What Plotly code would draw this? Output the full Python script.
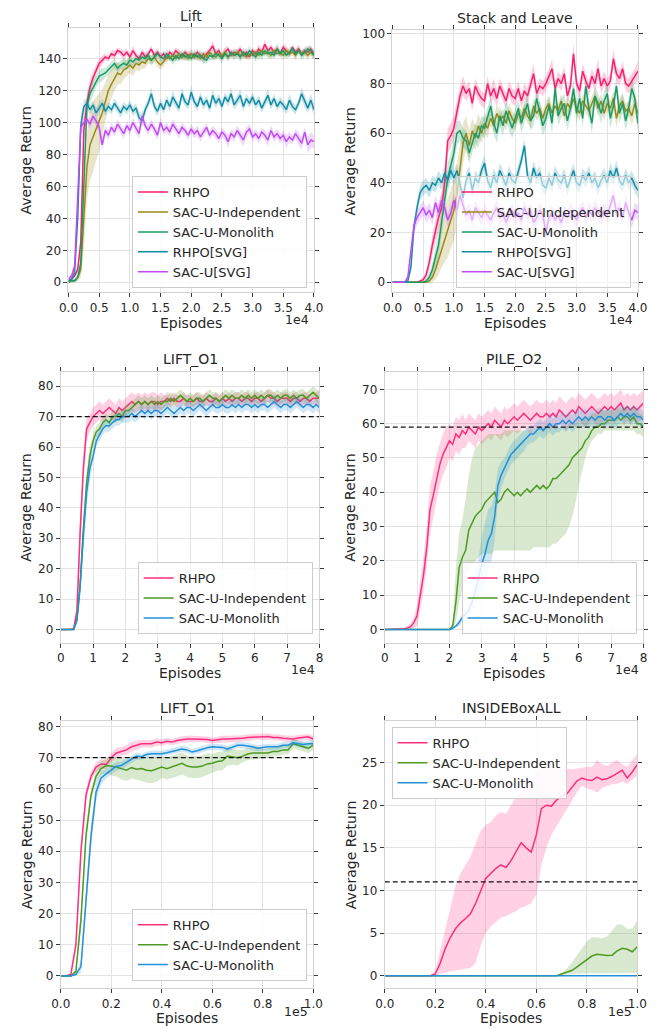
import plotly.graph_objects as go

W, H = 668, 1028
FONT = "DejaVu Sans"
TXT = "#262626"

# ---------------- x grids (episodes) ----------------
ep_top = [i * 500 for i in range(81)]      # 0 .. 4e4
ep_mid = [i * 1000 for i in range(81)]     # 0 .. 8e4
ep_bot = [i * 2000 for i in range(51)]     # 0 .. 1e5

NAMES_TOP = ["RHPO", "SAC-U-Independent", "SAC-U-Monolith", "RHPO[SVG]", "SAC-U[SVG]"]
NAMES_LOW = ["RHPO", "SAC-U-Independent", "SAC-U-Monolith"]

# ---------------- Lift ----------------
lift_rhpo = [1, 2, 4, 8, 25, 95, 112, 122, 128, 133,
             137, 139, 141, 140, 143, 142, 145, 144, 142, 144,
             141, 145, 142, 140, 144, 141, 143, 146, 142, 144,
             141, 143, 140, 144, 142, 145, 143, 141, 144, 142,
             143, 141, 144, 142, 140, 143, 145, 148, 143, 145,
             141, 144, 146, 142, 144, 143, 146, 142, 144, 141,
             145, 143, 146, 144, 149, 145, 147, 144, 146, 143,
             147, 145, 143, 147, 144, 146, 143, 145, 144, 146, 143]
lift_rhpo_sd = [0.5, 1, 1, 2, 5, 10, 6, 5, 4, 3,
                3, 3, 2, 2, 2, 3, 2, 2, 3, 2,
                2, 3, 2, 2, 2, 3, 2, 2, 2, 3,
                2, 2, 3, 2, 2, 2, 3, 2, 2, 2,
                3, 2, 2, 2, 3, 2, 2, 3, 2, 2,
                2, 3, 2, 2, 2, 3, 2, 2, 3, 2,
                2, 2, 3, 2, 3, 2, 2, 2, 3, 2,
                2, 3, 2, 2, 2, 3, 2, 2, 3, 2, 2]
lift_ind = [0, 1, 1, 3, 8, 40, 72, 86, 91, 96,
            100, 106, 113, 120, 124, 128, 131, 130, 133, 134,
            136, 134, 137, 136, 138, 137, 140, 139, 141, 138,
            136, 138, 141, 140, 142, 140, 143, 141, 142, 140,
            143, 141, 142, 140, 143, 141, 144, 142, 141, 143,
            142, 144, 141, 143, 142, 144, 142, 143, 141, 143,
            142, 144, 142, 145, 143, 144, 142, 145, 143, 144,
            142, 145, 143, 144, 142, 145, 143, 144, 142, 144, 142]
lift_ind_sd = [0.5, 1, 1, 2, 5, 20, 20, 22, 22, 20,
               18, 15, 12, 10, 9, 8, 7, 6, 6, 5,
               5, 5, 4, 4, 4, 3, 3, 3, 3, 3,
               3, 3, 2, 2, 3, 2, 2, 2, 3, 2,
               2, 2, 3, 2, 2, 2, 2, 3, 2, 2,
               2, 3, 2, 2, 2, 2, 3, 2, 2, 2,
               2, 2, 3, 2, 2, 2, 3, 2, 2, 2,
               3, 2, 2, 2, 3, 2, 2, 2, 3, 2, 3]
lift_mono = [0, 1, 1, 3, 12, 60, 110, 118, 122, 126,
             129, 130, 131, 133, 135, 137, 134, 136, 137, 136,
             139, 138, 140, 139, 141, 140, 142, 139, 141, 143,
             141, 140, 143, 141, 139, 142, 140, 143, 141, 142,
             140, 143, 141, 142, 140, 139, 142, 141, 143, 142,
             140, 143, 141, 144, 142, 143, 141, 144, 142, 145,
             143, 141, 144, 142, 145, 143, 144, 142, 146, 143,
             145, 142, 144, 146, 143, 145, 142, 144, 146, 145, 142]
lift_mono_sd = [0.5, 1, 1, 2, 6, 12, 8, 6, 5, 4,
                4, 4, 3, 3, 3, 3, 3, 3, 3, 3,
                3, 3, 2, 3, 2, 3, 2, 3, 3, 2,
                3, 2, 3, 2, 3, 3, 2, 3, 2, 3,
                2, 3, 2, 3, 3, 2, 3, 2, 3, 2,
                3, 2, 3, 2, 3, 2, 3, 3, 2, 3,
                2, 3, 2, 3, 2, 3, 3, 2, 3, 2,
                3, 2, 3, 2, 3, 2, 3, 3, 2, 3, 3]
lift_rsvg = [1, 2, 6, 40, 98, 110, 112, 108, 111, 106,
             109, 112, 107, 110, 108, 112, 109, 106, 110, 108,
             111, 107, 109, 103, 101, 108, 112, 118, 110, 107,
             112, 108, 114, 110, 116, 112, 109, 118, 113, 111,
             119, 113, 110, 116, 111, 114, 109, 117, 112, 115,
             110, 116, 113, 118, 111, 114, 117, 110, 115, 112,
             116, 111, 114, 109, 113, 117, 111, 115, 110, 113,
             111, 108, 114, 110, 108, 112, 118, 113, 109, 114, 108]
lift_rsvg_sd = [0.5, 1, 2, 5, 6, 4, 3, 3, 3, 3,
                3, 3, 3, 3, 3, 3, 3, 3, 3, 3,
                3, 3, 3, 4, 4, 3, 3, 4, 3, 3,
                3, 3, 3, 3, 4, 3, 3, 4, 3, 3,
                4, 3, 3, 3, 3, 3, 3, 4, 3, 3,
                3, 3, 3, 4, 3, 3, 4, 3, 3, 3,
                3, 3, 3, 3, 3, 4, 3, 3, 3, 3,
                3, 3, 4, 3, 3, 3, 4, 4, 3, 4, 4]
lift_ssvg = [2, 4, 10, 50, 97, 100, 102, 99, 104, 101,
             97, 86, 95, 92, 97, 94, 99, 96, 93, 98,
             95, 100, 96, 93, 104, 98, 95, 99, 96, 92,
             100, 95, 97, 94, 99, 96, 93, 97, 95, 92,
             96, 93, 95, 91, 94, 97, 92, 95, 93, 90,
             94, 92, 88, 93, 91, 95, 92, 89, 94, 96,
             91, 93, 90, 94, 92, 89, 95, 91, 93, 90,
             92, 88, 91, 89, 93, 90, 87, 94, 86, 89, 88]
lift_ssvg_sd = [1, 2, 4, 6, 5, 4, 3, 3, 3, 3,
                3, 4, 3, 3, 3, 3, 3, 3, 3, 3,
                3, 3, 3, 3, 4, 3, 3, 3, 3, 3,
                3, 3, 3, 3, 3, 3, 3, 3, 3, 3,
                3, 3, 3, 3, 3, 3, 3, 3, 3, 3,
                3, 3, 4, 3, 3, 3, 3, 4, 3, 3,
                3, 3, 3, 3, 3, 4, 3, 3, 3, 3,
                3, 4, 3, 3, 3, 4, 4, 3, 5, 5, 4]

# ---------------- Stack and Leave ----------------
stack_rhpo = [0, 0, 0, 0, 0, 0, 0, 0, 0, 0.5,
              1, 3, 8, 15, 21, 26, 30, 40, 57, 59,
              62, 68, 75, 79, 76, 78, 72, 79, 76, 74,
              73, 80, 75, 78, 74, 79, 76, 73, 78, 75,
              74, 78, 73, 77, 75, 80, 84, 76, 79, 78,
              80, 83, 86, 78, 82, 80, 84, 75, 79, 92,
              80, 77, 85, 81, 78, 83, 80, 86, 79, 82,
              79, 81, 90, 84, 82, 86, 80, 79, 81, 83, 85]
stack_rhpo_sd = [0, 0, 0, 0, 0, 0, 0, 0, 0, 0.3,
                 1, 2, 3, 4, 5, 6, 6, 6, 5, 5,
                 5, 5, 4, 4, 3, 3, 3, 3, 3, 3,
                 3, 3, 3, 4, 3, 3, 3, 3, 3, 3,
                 3, 3, 3, 3, 3, 3, 4, 3, 3, 3,
                 3, 3, 4, 3, 3, 3, 3, 3, 3, 4,
                 3, 3, 3, 3, 3, 3, 3, 4, 3, 3,
                 3, 3, 4, 3, 3, 3, 3, 3, 3, 3, 4]
stack_ind = [0, 0, 0, 0, 0, 0, 0, 0, 0, 0,
             0, 0, 0.5, 2, 5, 9, 14, 18, 22, 25,
             29, 35, 45, 56, 60, 55, 61, 58, 63, 60,
             64, 62, 66, 63, 68, 65, 67, 64, 69, 66,
             64, 68, 66, 70, 67, 65, 71, 68, 70, 66,
             70, 72, 68, 71, 69, 73, 67, 72, 70, 74,
             70, 68, 73, 71, 69, 72, 75, 70, 73, 68,
             72, 70, 74, 66, 71, 73, 69, 70, 67, 72, 68]
stack_ind_sd = [0, 0, 0, 0, 0, 0, 0, 0, 0, 0,
                0, 0, 1, 2, 4, 6, 8, 10, 12, 12,
                12, 12, 10, 8, 7, 6, 5, 5, 5, 4,
                4, 4, 3, 3, 4, 3, 3, 3, 3, 3,
                3, 3, 3, 3, 3, 3, 3, 3, 3, 3,
                3, 3, 3, 3, 3, 3, 3, 3, 3, 3,
                3, 3, 3, 3, 3, 3, 3, 3, 3, 3,
                3, 3, 3, 4, 3, 3, 3, 3, 4, 4, 4]
stack_mono = [0, 0, 0, 0, 0, 0, 0, 0, 0, 0,
              0, 0.5, 2, 5, 10, 15, 24, 33, 42, 47,
              52, 60, 61, 58, 57, 52, 56, 60, 58, 63,
              62, 66, 71, 64, 60, 67, 63, 69, 65, 62,
              66, 70, 64, 68, 72, 65, 67, 74, 68, 63,
              66, 71, 64, 78, 67, 70, 72, 65, 70, 78,
              68, 74, 66, 79, 70, 64, 75, 72, 68, 73,
              76, 66, 71, 79, 68, 72, 65, 70, 78, 74, 64]
stack_mono_sd = [0, 0, 0, 0, 0, 0, 0, 0, 0, 0,
                 0, 1, 2, 3, 4, 5, 6, 6, 6, 5,
                 5, 5, 4, 4, 4, 4, 4, 4, 4, 4,
                 4, 4, 4, 4, 4, 4, 4, 4, 4, 4,
                 4, 4, 4, 4, 4, 4, 4, 4, 4, 4,
                 4, 4, 4, 4, 4, 4, 4, 4, 4, 4,
                 4, 4, 4, 4, 4, 4, 4, 4, 4, 4,
                 4, 4, 4, 4, 4, 4, 4, 4, 4, 4, 4]
stack_rsvg = [0, 0, 0, 0, 0, 0.5, 6, 22, 30, 36,
              38, 39, 37, 40, 39, 42, 40, 44, 41, 45,
              42, 45, 39, 34, 41, 44, 37, 42, 40, 45,
              48, 41, 38, 43, 40, 45, 42, 39, 44, 41,
              40, 44, 49, 55, 43, 40, 46, 42, 44, 39,
              38, 42, 39, 44, 41, 40, 43, 38, 42, 45,
              40, 39, 43, 41, 44, 40, 42, 38, 41, 43,
              40, 45, 42, 46, 41, 39, 43, 40, 42, 39, 37]
stack_rsvg_sd = [0, 0, 0, 0, 0, 0.5, 2, 3, 3, 3,
                 3, 3, 3, 3, 3, 3, 3, 3, 3, 3,
                 3, 3, 3, 3, 3, 3, 3, 3, 3, 3,
                 3, 3, 3, 3, 3, 3, 3, 3, 3, 3,
                 3, 3, 3, 3, 3, 3, 3, 3, 3, 3,
                 3, 3, 3, 3, 3, 3, 3, 3, 3, 3,
                 3, 3, 3, 3, 3, 3, 3, 3, 3, 3,
                 3, 3, 3, 3, 3, 3, 3, 3, 3, 3, 3]
stack_ssvg = [0, 0, 0, 0, 0, 2, 12, 23, 26, 28,
              30, 27, 29, 26, 32, 28, 33, 30, 25, 28,
              33, 29, 35, 31, 27, 29, 25, 30, 28, 26,
              29, 27, 25, 28, 30, 26, 28, 24, 27, 29,
              26, 28, 25, 30, 27, 29, 24, 26, 29, 27,
              20, 26, 28, 25, 27, 24, 28, 26, 29, 27,
              25, 28, 30, 26, 29, 27, 30, 28, 26, 29,
              27, 31, 35, 28, 30, 26, 32, 28, 25, 29, 28]
stack_ssvg_sd = [0, 0, 0, 0, 0, 1, 2, 3, 3, 3,
                 3, 3, 3, 3, 3, 3, 3, 3, 3, 3,
                 3, 3, 3, 3, 3, 3, 3, 3, 3, 3,
                 3, 3, 3, 3, 3, 3, 3, 3, 3, 3,
                 3, 3, 3, 3, 3, 3, 3, 3, 3, 3,
                 3, 3, 3, 3, 3, 3, 3, 3, 3, 3,
                 3, 3, 3, 3, 3, 3, 3, 3, 3, 3,
                 3, 3, 3, 3, 3, 3, 3, 3, 3, 3, 3]

# ---------------- LIFT_O1 (8e4 episodes) ----------------
o1_rhpo = [0, 0, 0, 0, 0.3, 6, 32, 53, 66, 68,
           70, 71, 72, 71, 72, 73, 72, 71, 73, 72,
           73, 74, 75, 74, 75, 74, 75, 74, 75, 75,
           74, 75, 75, 76, 75, 76, 75, 75, 76, 75,
           75, 75, 76, 75, 75, 76, 75, 75, 76, 75,
           76, 75, 76, 75, 76, 76, 75, 76, 76, 75,
           76, 76, 75, 76, 77, 76, 76, 75, 76, 76,
           76, 75, 76, 76, 75, 76, 76, 75, 76, 76, 76]
o1_rhpo_sd = [0, 0, 0, 0, 0.5, 3, 5, 5, 4, 3,
              3, 3, 3, 3, 3, 3, 3, 3, 3, 3,
              3, 3, 3, 3, 3, 3, 3, 3, 3, 3,
              3, 3, 2, 2, 2, 2, 2, 2, 2, 2,
              2, 2, 2, 2, 2, 2, 2, 2, 2, 2,
              2, 2, 2, 2, 2, 2, 2, 2, 2, 2,
              2, 2, 2, 2, 2, 2, 2, 2, 2, 2,
              2, 2, 2, 2, 2, 2, 2, 2, 2, 2, 3]
o1_ind = [0, 0, 0, 0, 0, 3, 15, 33, 48, 57,
          62, 65, 66, 68, 69, 68, 70, 70, 71, 70,
          72, 72, 73, 74, 75, 74, 75, 74, 75, 74,
          75, 74, 75, 75, 76, 75, 76, 77, 76, 75,
          76, 75, 76, 76, 75, 76, 77, 76, 76, 75,
          76, 77, 76, 77, 76, 76, 77, 76, 77, 76,
          77, 76, 77, 76, 77, 77, 76, 77, 76, 77,
          77, 76, 77, 76, 77, 77, 76, 77, 78, 77, 76]
o1_ind_sd = [0, 0, 0, 0, 0, 1, 3, 4, 4, 3,
             2, 2, 2, 2, 2, 2, 2, 2, 2, 2,
             2, 2, 2, 2, 2, 2, 2, 2, 2, 2,
             2, 2, 2, 2, 2, 2, 2, 2, 2, 2,
             2, 2, 2, 2, 2, 2, 2, 2, 2, 2,
             2, 2, 2, 2, 2, 2, 2, 2, 2, 2,
             2, 2, 2, 2, 2, 2, 2, 2, 2, 2,
             2, 2, 2, 2, 2, 2, 2, 2, 2, 2, 2]
o1_mono = [0, 0, 0, 0, 0, 3, 14, 31, 45, 53,
           57, 62, 64, 66, 67, 67, 68, 69, 69, 70,
           70, 70, 71, 70, 71, 72, 71, 72, 71, 72,
           72, 71, 72, 73, 72, 71, 72, 73, 72, 73,
           73, 72, 73, 74, 73, 72, 73, 74, 73, 73,
           74, 73, 73, 74, 73, 74, 73, 74, 74, 73,
           74, 73, 74, 74, 73, 74, 75, 74, 73, 74,
           74, 73, 74, 75, 74, 73, 74, 74, 73, 74, 73]
o1_mono_sd = [0, 0, 0, 0, 0, 1, 4, 5, 5, 4,
              2, 2, 2, 2, 2, 2, 2, 2, 2, 2,
              2, 2, 2, 2, 2, 2, 2, 2, 2, 2,
              2, 2, 2, 2, 2, 2, 2, 2, 2, 2,
              2, 2, 2, 2, 2, 2, 2, 2, 2, 2,
              2, 2, 2, 2, 2, 2, 2, 2, 2, 2,
              2, 2, 2, 2, 2, 2, 2, 2, 2, 2,
              2, 2, 2, 2, 2, 2, 2, 2, 2, 2, 2]

# ---------------- PILE_O2 ----------------
pile_rhpo = [0, 0, 0, 0, 0, 0, 0.2, 0.4, 0.8, 2,
             4, 10, 16, 24, 35, 39, 44, 48, 51, 53,
             55, 54, 57, 56, 58, 57, 59, 58, 57, 59,
             58, 59, 60, 59, 61, 60, 59, 61, 60, 61,
             62, 61, 62, 63, 62, 61, 62, 63, 62, 62,
             63, 62, 63, 62, 64, 63, 62, 63, 64, 63,
             65, 64, 63, 64, 65, 64, 63, 64, 65, 64,
             65, 64, 65, 66, 64, 65, 64, 65, 64, 65, 66]
pile_rhpo_sd = [0, 0, 0, 0, 0, 0, 0.3, 0.5, 1, 1.5,
                3, 4, 5, 6, 7, 7, 7, 6, 6, 6,
                5, 5, 5, 5, 5, 4, 4, 4, 4, 4,
                4, 4, 4, 4, 4, 4, 4, 4, 4, 4,
                4, 4, 4, 4, 4, 4, 4, 4, 4, 4,
                4, 4, 4, 4, 4, 4, 4, 4, 4, 4,
                4, 4, 4, 4, 4, 4, 4, 4, 4, 4,
                4, 4, 4, 4, 4, 4, 4, 4, 4, 4, 4]
pile_ind = [0, 0, 0, 0, 0, 0, 0, 0, 0, 0,
            0, 0, 0, 0, 0, 0, 0, 0, 0, 0,
            0, 1, 8, 18, 21, 23, 29, 31, 33, 34,
            35, 37, 38, 39, 40, 37, 38, 40, 41, 40,
            39, 40, 39, 40, 41, 40, 41, 42, 41, 42,
            41, 42, 44, 44, 45, 46, 47, 48, 50, 51,
            52, 53, 55, 56, 58, 59, 59, 60, 60, 61,
            61, 61, 62, 61, 62, 62, 61, 62, 60, 60, 59]
pile_ind_lo = [0, 0, 0, 0, 0, 0, 0, 0, 0, 0,
               0, 0, 0, 0, 0, 0, 0, 0, 0, 0,
               0, 0, 2, 8, 12, 15, 17, 19, 20, 21,
               22, 22, 22, 22, 23, 23, 23, 23, 23, 23,
               23, 23, 23, 23, 23, 23, 24, 24, 24, 24,
               24, 24, 25, 25, 26, 27, 28, 30, 33, 37,
               42, 46, 50, 53, 55, 56, 57, 57, 58, 58,
               58, 58, 58, 58, 58, 58, 58, 58, 57, 57, 56]
pile_ind_hi = [0, 0, 0, 0, 0, 0, 0, 0, 0, 0,
               0, 0, 0, 0, 0, 0, 0, 0, 0, 0,
               0, 2, 18, 28, 32, 38, 45, 50, 53, 54,
               55, 56, 57, 57, 57, 57, 57, 58, 58, 58,
               58, 58, 58, 58, 58, 58, 58, 59, 59, 59,
               59, 59, 59, 59, 59, 59, 59, 60, 60, 60,
               61, 61, 62, 62, 63, 63, 63, 64, 64, 64,
               64, 64, 65, 64, 65, 65, 64, 65, 64, 63, 62]
pile_mono = [0, 0, 0, 0, 0, 0, 0, 0, 0, 0,
             0, 0, 0, 0, 0, 0, 0, 0, 0, 0,
             0, 0.3, 1, 2, 3.5, 4.5, 5.5, 8, 11, 15,
             19, 22, 26, 28, 33, 42, 45, 47, 49, 51,
             52, 53, 54, 55, 56, 57, 57, 58, 59, 58,
             59, 60, 59, 60, 60, 61, 60, 61, 60, 61,
             62, 61, 62, 61, 62, 61, 62, 62, 61, 62,
             62, 61, 62, 63, 62, 63, 62, 63, 62, 62, 61]
pile_mono_sd = [0, 0, 0, 0, 0, 0, 0, 0, 0, 0,
                0, 0, 0, 0, 0, 0, 0, 0, 0, 0,
                0, 0.3, 0.5, 1, 1, 1.5, 2, 3, 4, 6,
                8, 9, 9, 8, 7, 5, 4, 3, 3, 3,
                3, 3, 3, 3, 2.5, 2.5, 2.5, 2.5, 2.5, 2.5,
                2.5, 2.5, 2.5, 2.5, 2.5, 2.5, 2.5, 2.5, 2.5, 2.5,
                2.5, 2.5, 2.5, 2.5, 2.5, 2.5, 2.5, 2.5, 2.5, 2.5,
                2.5, 2.5, 2.5, 2.5, 2.5, 2.5, 2.5, 2.5, 2.5, 2.5, 2.5]

# ---------------- LIFT_O1 (1e5 episodes) ----------------
p5_rhpo = [0, 0, 0.5, 10, 40, 58, 64, 67, 68, 67.8,
           70, 71.5, 72, 72.5, 73.5, 74, 74.5, 74.5, 74.5, 75,
           74.8, 75.3, 75, 75.5, 75.8, 76, 76, 76, 76, 75.8,
           75.5, 75.8, 76, 76, 76, 76, 76.2, 76.5, 76.6, 76.8,
           76.7, 76.8, 76.5, 76.5, 76.2, 76, 76, 76.3, 76.5, 76.7, 76]
p5_rhpo_sd = [0, 0, 0.5, 2, 3, 2, 1.5, 1.5, 1.5, 1.5,
              1.5, 1.5, 1.5, 1.5, 1.5, 1.5, 1.2, 1.2, 1.2, 1.2,
              1, 1, 1, 1, 1, 1, 1, 1, 1, 1,
              1, 1, 1, 1, 1, 1, 1, 1, 1, 1,
              1, 1, 1, 1, 1, 1, 1, 1, 1, 1, 1]
p5_ind = [0, 0, 0, 1.5, 18, 45, 58, 64, 66.5, 67.5,
          67.3, 67, 66.5, 66, 66.8, 66.3, 66.5, 66, 65.8, 66.3,
          67, 66.5, 67, 67.5, 68.2, 67.3, 67, 67, 67.3, 68,
          68.2, 68.8, 69, 70.5, 70.2, 70, 70.5, 71.2, 71.5, 71.5,
          71.3, 71.5, 72, 72, 72.5, 72.5, 74.5, 74, 73.5, 73, 74]
p5_ind_sd = [0, 0, 0, 1, 3, 3, 2, 2, 2, 2.5,
             3, 3, 3.5, 3.5, 3.5, 3.5, 4, 4, 4, 4,
             3.5, 3.5, 3.5, 3.5, 3.5, 3.5, 3.5, 3.5, 3.5, 3.5,
             3, 3, 3, 3, 2.5, 2.5, 2, 2, 2, 2,
             1.5, 1.5, 1.5, 1.5, 1.5, 1.5, 1.5, 1.5, 1.5, 1.5, 1.5]
p5_mono = [0, 0, 0, 0.5, 3, 24, 45, 59, 63.5, 64.8,
           66, 67.3, 67.5, 68.5, 69.5, 70.5, 70.3, 71, 71.3, 71.3,
           71.3, 71.6, 72, 72.5, 72.8, 72.5, 71.8, 72.2, 72.8, 73.2,
           73.5, 73.5, 73.3, 72.8, 73.5, 74, 74, 73.8, 73.5, 73,
           73.3, 73.5, 73.5, 73.5, 74, 74, 74.8, 74.5, 74.2, 74.5, 74.5]
p5_mono_sd = [0, 0, 0, 0.5, 2, 4, 4, 3, 2, 1.5,
              1.5, 1.5, 1.2, 1.2, 1.2, 1.2, 1, 1, 1, 1,
              1, 1, 1, 1, 1, 1, 1, 1, 1, 1,
              1, 1, 1, 1, 1, 1, 1, 1, 1, 1,
              1, 1, 1, 1, 1, 1, 1, 1, 1, 1, 1]

# ---------------- INSIDEBoxALL ----------------
box_rhpo = [0, 0, 0, 0, 0, 0, 0, 0, 0, 0,
            0.2, 1.5, 3.2, 4.5, 5.5, 6.2, 6.7, 7.3, 8.5, 10,
            11.4, 12, 12.6, 13, 12.7, 13.5, 14.5, 15.6, 15, 14.5,
            16.5, 19.6, 20, 19.9, 20.6, 21.1, 21.3, 22, 22.8, 23.2,
            23, 22.9, 23.3, 23, 23.1, 23.4, 23.8, 24.1, 23.2, 23.9, 24.8]
box_rhpo_lo = [0, 0, 0, 0, 0, 0, 0, 0, 0, 0,
               0, 0.2, 0.4, 0.5, 0.6, 0.7, 0.8, 0.9, 1.5, 3.5,
               5, 5.8, 6.3, 6.8, 7, 7.3, 7.6, 8, 8.2, 8.5,
               9.5, 13, 15, 16.5, 17.5, 18.5, 19.5, 20.5, 21.5, 22.3,
               22, 21.8, 21.5, 22, 22.2, 22.5, 22.5, 22.8, 22.5, 23, 23.5]
box_rhpo_hi = [0, 0, 0, 0, 0, 0, 0, 0, 0, 0,
               0.5, 3, 5.5, 8, 10.5, 12, 13, 14, 15.5, 17,
               17.7, 18, 18.8, 19.2, 19, 20, 21, 22, 22.5, 23,
               24, 24.5, 25, 25, 24.8, 24.5, 24.3, 24.2, 24.3, 24.4,
               24.5, 24.5, 25.3, 24.8, 24.6, 25, 25.3, 24.8, 24.5, 25.3, 26]
box_ind = [0, 0, 0, 0, 0, 0, 0, 0, 0, 0,
           0, 0, 0, 0, 0, 0, 0, 0, 0, 0,
           0, 0, 0, 0, 0, 0, 0, 0, 0, 0,
           0, 0, 0, 0, 0, 0.2, 0.4, 0.6, 1.0, 1.4,
           1.8, 2.3, 2.5, 2.4, 2.35, 2.4, 2.9, 3.2, 3.1, 2.8, 3.4]
box_ind_lo = [0, 0, 0, 0, 0, 0, 0, 0, 0, 0,
              0, 0, 0, 0, 0, 0, 0, 0, 0, 0,
              0, 0, 0, 0, 0, 0, 0, 0, 0, 0,
              0, 0, 0, 0, 0, 0.1, 0.15, 0.2, 0.25, 0.3,
              0.3, 0.3, 0.3, 0.3, 0.3, 0.3, 0.3, 0.3, 0.3, 0.3, 0.3]
box_ind_hi = [0, 0, 0, 0, 0, 0, 0, 0, 0, 0,
              0, 0, 0, 0, 0, 0, 0, 0, 0, 0,
              0, 0, 0, 0, 0, 0, 0, 0, 0, 0,
              0, 0, 0, 0, 0, 0.3, 0.8, 1.5, 2.3, 3.2,
              4, 4.5, 4.5, 4.4, 4.6, 5.3, 6, 6, 5.5, 5.5, 6.5]
box_mono = [0, 0, 0, 0, 0, 0, 0, 0, 0, 0,
            0, 0, 0, 0, 0, 0, 0, 0, 0, 0,
            0, 0, 0, 0, 0, 0, 0, 0, 0, 0,
            0, 0, 0, 0, 0, 0, 0, 0, 0, 0,
            0, 0, 0, 0, 0, 0, 0, 0, 0, 0, 0]

# success thresholds (dashed lines)
o1_target = 70
pile_target = 59
o1_long_target = 70
box_target = 11

COL_TOP = ["#fa1e6e", "#9c8a14", "#1b9a63", "#138da5", "#c04cf5"]
COL_LOW = ["#ff2e7e", "#4e9a23", "#2490d6"]

# ---------------- helpers ----------------
fig = go.Figure()


def rgba(h, a):
    h = h.lstrip("#")
    return f"rgba({int(h[0:2], 16)},{int(h[2:4], 16)},{int(h[4:6], 16)},{a})"


def ref(k):
    return ("x", "y") if k == 1 else (f"x{k}", f"y{k}")


def legname(k):
    return "legend" if k == 1 else f"legend{k}"


def with_sd(mean, sd):
    if len(mean) != len(sd):
        raise ValueError(f"length mismatch {len(mean)} vs {len(sd)}")
    return [m - s for m, s in zip(mean, sd)], [m + s for m, s in zip(mean, sd)]


def add_series(k, x, mean, lo, hi, color, name, alpha=0.22):
    if not (len(x) == len(mean) == len(lo) == len(hi)):
        raise ValueError(f"{name} panel {k}: {len(x)} {len(mean)} {len(lo)} {len(hi)}")
    xr, yr = ref(k)
    xs = list(x)
    fig.add_trace(go.Scatter(x=xs + xs[::-1], y=list(hi) + list(lo)[::-1], fill="toself",
                             fillcolor=rgba(color, alpha), line=dict(width=0), mode="lines",
                             hoverinfo="skip", showlegend=False, xaxis=xr, yaxis=yr))
    fig.add_trace(go.Scatter(x=xs, y=list(mean), mode="lines", line=dict(color=color, width=1.5),
                             name=name, legend=legname(k), xaxis=xr, yaxis=yr))


def add_target(k, x0, x1, yv):
    xr, yr = ref(k)
    fig.add_trace(go.Scatter(x=[x0, x1], y=[yv, yv], mode="lines",
                             line=dict(color="#111111", width=1.3, dash="5px,3px"),
                             hoverinfo="skip", showlegend=False, xaxis=xr, yaxis=yr))


x_top = [e / 1e4 for e in ep_top]
x_mid = [e / 1e4 for e in ep_mid]
x_bot = [e / 1e5 for e in ep_bot]

# Panel 1: Lift
for mean, sd, c, n in zip([lift_rhpo, lift_ind, lift_mono, lift_rsvg, lift_ssvg],
                          [lift_rhpo_sd, lift_ind_sd, lift_mono_sd, lift_rsvg_sd, lift_ssvg_sd],
                          COL_TOP, NAMES_TOP):
    lo, hi = with_sd(mean, sd)
    add_series(1, x_top, mean, lo, hi, c, n)

# Panel 2: Stack and Leave
for mean, sd, c, n in zip([stack_rhpo, stack_ind, stack_mono, stack_rsvg, stack_ssvg],
                          [stack_rhpo_sd, stack_ind_sd, stack_mono_sd, stack_rsvg_sd, stack_ssvg_sd],
                          COL_TOP, NAMES_TOP):
    lo, hi = with_sd(mean, sd)
    add_series(2, x_top, mean, lo, hi, c, n)

# Panel 3: LIFT_O1
for mean, sd, c, n in zip([o1_rhpo, o1_ind, o1_mono], [o1_rhpo_sd, o1_ind_sd, o1_mono_sd],
                          COL_LOW, NAMES_LOW):
    lo, hi = with_sd(mean, sd)
    add_series(3, x_mid, mean, lo, hi, c, n)
add_target(3, 0, 8, o1_target)

# Panel 4: PILE_O2
lo, hi = with_sd(pile_rhpo, pile_rhpo_sd)
add_series(4, x_mid, pile_rhpo, lo, hi, COL_LOW[0], NAMES_LOW[0])
add_series(4, x_mid, pile_ind, pile_ind_lo, pile_ind_hi, COL_LOW[1], NAMES_LOW[1])
lo, hi = with_sd(pile_mono, pile_mono_sd)
add_series(4, x_mid, pile_mono, lo, hi, COL_LOW[2], NAMES_LOW[2])
add_target(4, 0, 8, pile_target)

# Panel 5: LIFT_O1 (long)
for mean, sd, c, n in zip([p5_rhpo, p5_ind, p5_mono], [p5_rhpo_sd, p5_ind_sd, p5_mono_sd],
                          COL_LOW, NAMES_LOW):
    lo, hi = with_sd(mean, sd)
    add_series(5, x_bot, mean, lo, hi, c, n)
add_target(5, 0, 1, o1_long_target)

# Panel 6: INSIDEBoxALL
add_series(6, x_bot, box_rhpo, box_rhpo_lo, box_rhpo_hi, COL_LOW[0], NAMES_LOW[0])
add_series(6, x_bot, box_ind, box_ind_lo, box_ind_hi, COL_LOW[1], NAMES_LOW[1])
add_series(6, x_bot, box_mono, box_mono, box_mono, COL_LOW[2], NAMES_LOW[2])
add_target(6, 0, 1, box_target)

# ---------------- layout ----------------
PANELS = {
    1: dict(box=(60.3, 25, 313.3, 290), xr=[0, 4], yr=[-6.2, 159.2], xdt=0.5, xfmt=".1f", ydt=20),
    2: dict(box=(394.3, 27, 647.3, 290), xr=[0, 4], yr=[-4.0, 101.6], xdt=0.5, xfmt=".1f", ydt=20),
    3: dict(box=(52.3, 370, 319, 641.7), xr=[0, 8], yr=[-4.4, 84.7], xdt=1, xfmt="d", ydt=10),
    4: dict(box=(386.3, 370, 653, 641.7), xr=[0, 8], yr=[-3.9, 75.1], xdt=1, xfmt="d", ydt=10),
    5: dict(box=(52.3, 720, 312.7, 988.3), xr=[0, 1], yr=[-4.0, 81.8], xdt=0.2, xfmt=".1f", ydt=10),
    6: dict(box=(386.3, 720, 646.7, 988.3), xr=[0, 1], yr=[-1.5, 29.9], xdt=0.2, xfmt=".1f", ydt=5),
}

AX = dict(showline=True, linecolor="#d2d2d2", linewidth=1, mirror="ticks", ticks="outside",
          ticklen=4, tickwidth=1, tickcolor="#3a3a3a", showgrid=True, gridcolor="#e3e3e3",
          gridwidth=1, zeroline=False, tick0=0,
          tickfont=dict(family=FONT, size=12, color=TXT))

lay = {}
for k, p in PANELS.items():
    x0, y0, x1, y1 = p["box"]
    xr, yr = ref(k)
    xkey = "xaxis" if k == 1 else f"xaxis{k}"
    ykey = "yaxis" if k == 1 else f"yaxis{k}"
    lay[xkey] = dict(AX, domain=[x0 / W, x1 / W], range=p["xr"], anchor=yr, dtick=p["xdt"],
                     tickformat=p["xfmt"])
    lay[ykey] = dict(AX, domain=[1 - y1 / H, 1 - y0 / H], range=p["yr"], anchor=xr, dtick=p["ydt"])

LEG = dict(bordercolor="#cccccc", borderwidth=1, itemwidth=30, xref="paper", yref="paper",
           font=dict(family=FONT, size=13, color=TXT), tracegroupgap=0)
legpos = {
    1: (306, 286, "right", "bottom", 0.85),
    2: (640, 286, "right", "bottom", 0.55),
    3: (312, 633, "right", "bottom", 0.85),
    4: (646, 633, "right", "bottom", 0.85),
    5: (306, 980.7, "right", "bottom", 0.85),
    6: (393.3, 726, "left", "top", 0.9),
}
for k, (px, py, xa, ya, a) in legpos.items():
    lay[legname(k)] = dict(LEG, x=px / W, y=1 - py / H, xanchor=xa, yanchor=ya,
                           bgcolor=f"rgba(255,255,255,{a})")

fig.update_layout(width=W, height=H, margin=dict(l=0, r=0, t=0, b=0),
                  paper_bgcolor="white", plot_bgcolor="white",
                  font=dict(family=FONT, color=TXT), showlegend=True, **lay)


def ann(text, x, y, size=14, angle=0, xanchor="center"):
    fig.add_annotation(text=text, x=x / W, y=1 - y / H, xref="paper", yref="paper", showarrow=False,
                       font=dict(family=FONT, size=size, color=TXT), textangle=angle,
                       xanchor=xanchor, yanchor="middle")


titles = ["Lift", "Stack and Leave", "LIFT_O1", "PILE_O2", "LIFT_O1", "INSIDEBoxALL"]
title_y = {1: 13.3, 2: 15, 3: 356.7, 4: 356.7, 5: 706.7, 6: 706.7}
xlabel_y = {1: 321, 2: 321, 3: 672, 4: 672, 5: 1018, 6: 1018}
offset_txt = {1: "1e4", 2: "1e4", 3: "1e4", 4: "1e4", 5: "1e5", 6: "1e5"}
offset_y = {1: 317, 2: 317, 3: 668.5, 4: 668.5, 5: 1011, 6: 1011}
for k, p in PANELS.items():
    x0, y0, x1, y1 = p["box"]
    cx = (x0 + x1) / 2
    ann(titles[k - 1], cx, title_y[k], size=14)
    ann("Episodes", cx, xlabel_y[k], size=14)
    ann(offset_txt[k], x1 - 3, offset_y[k], size=12.5, xanchor="right")
    ann("Average Return", 17 if x0 < 200 else 351, (y0 + y1) / 2, size=14, angle=-90)

fig.write_html("out.html", config={"displayModeBar": False},
               post_script="document.body.style.margin='0';document.body.style.overflow='hidden';")
